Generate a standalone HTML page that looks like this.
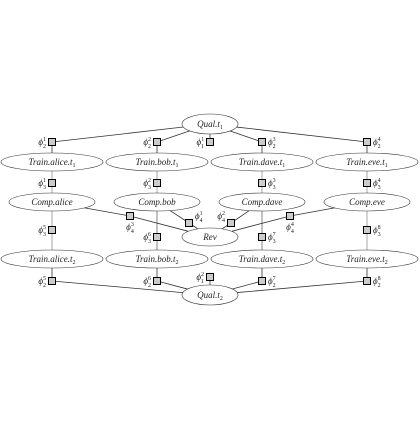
<!DOCTYPE html>
<html><head><meta charset="utf-8"><style>
html,body{margin:0;padding:0;background:#fff;}
text{font-family:"Liberation Serif",serif;font-style:italic;font-size:9px;fill:#222;}
.sub{font-size:6px;font-style:normal;}
</style></head><body>
<svg id="g" width="420" height="420" viewBox="0 0 420 420" xmlns="http://www.w3.org/2000/svg"></svg>
<script>
const NS="http://www.w3.org/2000/svg";
const svg=document.getElementById('g');
const edgeLayer=document.createElementNS(NS,'g');svg.appendChild(edgeLayer);
const nodeLayer=document.createElementNS(NS,'g');svg.appendChild(nodeLayer);
function el(tag,attrs,parent){const e=document.createElementNS(NS,tag);for(const k in attrs)e.setAttribute(k,attrs[k]);(parent||svg).appendChild(e);return e;}
const nodes={
 q1:[210,124,28,10,'Qual.t','1'],
 ta1:[52,162,51,9,'Train.alice.t','1'],tb1:[157,162,51,9,'Train.bob.t','1'],td1:[262,162,51,9,'Train.dave.t','1'],te1:[367,162,51,9,'Train.eve.t','1'],
 ca:[52,202,43,9,'Comp.alice',''],cb:[157,202,43,9,'Comp.bob',''],cd:[262,202,43,9,'Comp.dave',''],ce:[367,202,43,9,'Comp.eve',''],
 rv:[210,237,28,9,'Rev',''],
 ta2:[52,259,51,9,'Train.alice.t','2'],tb2:[157,259,51,9,'Train.bob.t','2'],td2:[262,259,51,9,'Train.dave.t','2'],te2:[367,259,51,9,'Train.eve.t','2'],
 q2:[210,295,28,10,'Qual.t','2']
};
// factor: x,y,sub,sup,labelSide, connected nodes, edge color
const factors=[
 [52,142,'2','1','L',['q1','ta1'],'#333'],[157,142,'2','2','L',['q1','tb1'],'#333'],
 [262,142,'2','3','R',['q1','td1'],'#333'],[367,142,'2','4','R',['q1','te1'],'#333'],
 [210,142,'1','1','L',['q1'],'#333'],
 [52,183,'3','1','L',['ta1','ca'],'#bbb'],[157,183,'3','2','L',['tb1','cb'],'#bbb'],
 [262,183,'3','3','R',['td1','cd'],'#bbb'],[367,183,'3','4','R',['te1','ce'],'#bbb'],
 [52,230,'3','5','L',['ca','ta2'],'#bbb'],[157,237,'3','6','L',['cb','tb2'],'#666'],
 [262,237,'3','7','R',['cd','td2'],'#666'],[367,230,'3','8','R',['ce','te2'],'#bbb'],
 [130,216,'4','3','B',['ca','rv'],'#333'],[189,223,'4','1','T',['cb','rv'],'#333'],
 [231,223,'4','2','TL',['cd','rv'],'#333'],[290,216,'4','4','B',['ce','rv'],'#333'],
 [52,281,'2','5','L',['ta2','q2'],'#333'],[157,281,'2','6','L',['tb2','q2'],'#333'],
 [262,281,'2','7','R',['td2','q2'],'#333'],[367,281,'2','8','R',['te2','q2'],'#333'],
 [210,277,'1','2','L',['q2'],'#333']
];
function boundary(n,x,y){const[cx,cy,rx,ry]=n;const dx=x-cx,dy=y-cy;const t=1/Math.sqrt(dx*dx/(rx*rx)+dy*dy/(ry*ry));return[cx+dx*t,cy+dy*t];}
for(const k in nodes){const n=nodes[k];
 const g=el('g',{},nodeLayer);
 
 
 el('ellipse',{cx:n[0],cy:n[1],rx:n[2],ry:n[3],fill:'#fff',stroke:'#333','stroke-width':0.6},g);
 const t=el('text',{x:n[0],y:n[1]+3,'text-anchor':'middle'},g);t.textContent=n[4];
 if(n[5]){const s=el('tspan',{class:'sub',dy:2},t);s.textContent=n[5];}
}
factors.forEach(f=>{
 const[x,y,sb,sp,side,conn,col]=f;
 conn.forEach(k=>{const[bx,by]=boundary(nodes[k],x,y);
  const l=el('line',{x1:x,y1:y,x2:bx,y2:by,stroke:col,'stroke-width':col==='#bbb'?1.3:0.8},edgeLayer);
  
  });
 const g=el('g',{},nodeLayer);
 
 
 el('rect',{x:x-3.5,y:y-3.5,width:7,height:7,fill:'#ccc',stroke:'#000','stroke-width':1},g);
 let lx,ly,anc='start';
 if(side==='L'){lx=x-6;ly=y+3;anc='end';}
 else if(side==='R'){lx=x+6;ly=y+3;}
 else if(side==='B'){lx=x;ly=y+14;anc='middle';}
 else if(side==='T'){lx=x+6;ly=y-4;}
 else {lx=x-6;ly=y-4;anc='end';}
 const t=el('text',{x:lx,y:ly,'text-anchor':anc},g);t.textContent='ϕ';
 const a=el('tspan',{class:'sub',dy:-4},t);a.textContent=sp;
 const b=el('tspan',{class:'sub',dy:7,dx:-3},t);b.textContent=sb;
});
</script>
</body></html>
